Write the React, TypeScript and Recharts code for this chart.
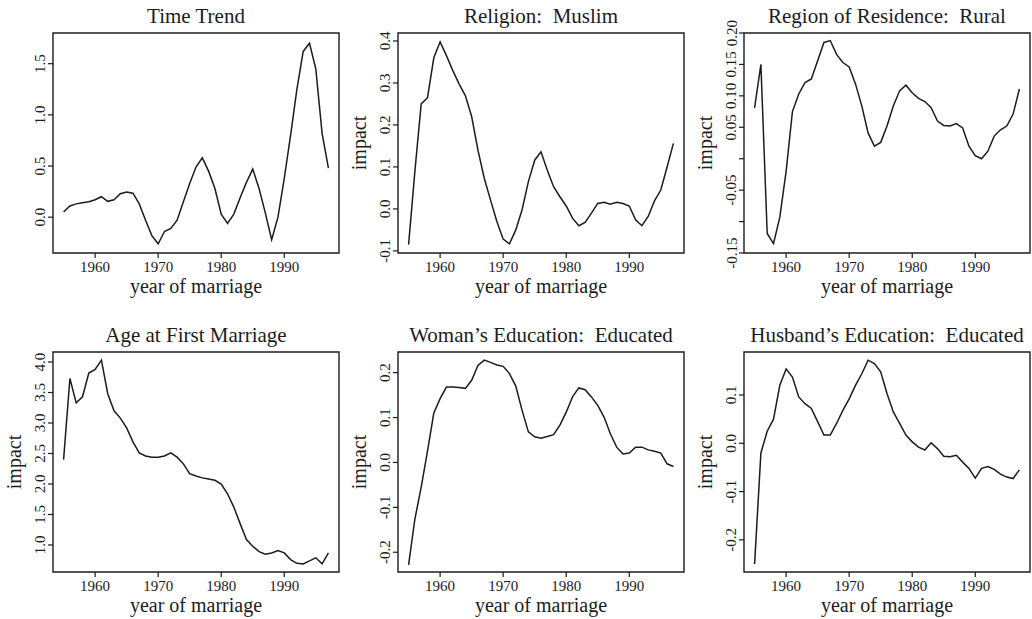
import React from 'react';
import { LineChart, Line, XAxis, YAxis, ReferenceArea } from 'recharts';

const FONT = '"Liberation Serif", "DejaVu Serif", serif';
const INK = '#1c1c1c';

const years = [
  1955, 1956, 1957, 1958, 1959, 1960, 1961, 1962, 1963, 1964, 1965, 1966, 1967, 1968, 1969,
  1970, 1971, 1972, 1973, 1974, 1975, 1976, 1977, 1978, 1979, 1980, 1981, 1982, 1983, 1984,
  1985, 1986, 1987, 1988, 1989, 1990, 1991, 1992, 1993, 1994, 1995, 1996, 1997,
];

const timeTrend = [
  0.05, 0.11, 0.13, 0.14, 0.15, 0.17, 0.2, 0.155, 0.17, 0.23, 0.245, 0.235, 0.13, -0.03, -0.18,
  -0.26, -0.14, -0.11, -0.03, 0.15, 0.33, 0.49, 0.58, 0.45, 0.28, 0.03, -0.06, 0.03, 0.19, 0.34,
  0.47, 0.28, 0.04, -0.22, 0.0, 0.38, 0.8, 1.25, 1.62, 1.7, 1.45, 0.82, 0.48,
];

const religionMuslim = [
  -0.085, 0.09, 0.25, 0.265, 0.36, 0.398, 0.365, 0.33, 0.298, 0.27, 0.22, 0.14, 0.073, 0.021, -0.03,
  -0.072, -0.083, -0.05, -0.002, 0.065, 0.116, 0.136, 0.092, 0.053, 0.029, 0.007, -0.022, -0.04, -0.032, -0.01,
  0.013, 0.016, 0.011, 0.016, 0.013, 0.007, -0.026, -0.04, -0.018, 0.019, 0.045, 0.1, 0.156,
];

const regionRural = [
  0.081, 0.15, -0.119, -0.135, -0.093, -0.02, 0.075, 0.103, 0.121, 0.127, 0.156, 0.185, 0.188, 0.166, 0.153,
  0.146, 0.119, 0.084, 0.041, 0.02, 0.026, 0.052, 0.084, 0.108, 0.117, 0.105, 0.096, 0.091, 0.081, 0.06,
  0.053, 0.052, 0.056, 0.049, 0.02, 0.005, 0.0, 0.012, 0.036, 0.046, 0.052, 0.071, 0.111,
];

const ageFirstMarriage = [
  2.4, 3.73, 3.33, 3.43, 3.82, 3.88, 4.03, 3.48, 3.2, 3.08, 2.92, 2.69, 2.51, 2.46, 2.44,
  2.44, 2.46, 2.51, 2.44, 2.33, 2.17, 2.13, 2.1, 2.08, 2.06, 2.0, 1.84, 1.62, 1.35, 1.09,
  0.98, 0.89, 0.85, 0.87, 0.91, 0.87, 0.76, 0.7, 0.69, 0.74, 0.79, 0.69, 0.87,
];

const womanEducated = [
  -0.228, -0.126, -0.055, 0.025, 0.11, 0.142, 0.168, 0.168, 0.167, 0.165, 0.183, 0.216, 0.228, 0.223, 0.217,
  0.214, 0.198, 0.17, 0.116, 0.068, 0.057, 0.054, 0.058, 0.062, 0.083, 0.112, 0.146, 0.166, 0.162, 0.146,
  0.127, 0.101, 0.064, 0.034, 0.019, 0.021, 0.034, 0.034, 0.028, 0.025, 0.021, -0.003, -0.009,
];

const husbandEducated = [
  -0.25, -0.02, 0.025, 0.05, 0.12, 0.154, 0.137, 0.096, 0.082, 0.072, 0.045, 0.017, 0.017, 0.041, 0.068,
  0.092, 0.12, 0.144, 0.172, 0.165, 0.148, 0.103, 0.065, 0.041, 0.017, 0.003, -0.008, -0.014, 0.001, -0.011,
  -0.027, -0.028, -0.025, -0.039, -0.052, -0.072, -0.052, -0.048, -0.054, -0.064, -0.07, -0.073, -0.055,
];

const titles = [
  'Time Trend',
  'Religion:  Muslim',
  'Region of Residence:  Rural',
  'Age at First Marriage',
  'Woman\u2019s Education:  Educated',
  'Husband\u2019s Education:  Educated',
];

const xTicks = [1960, 1970, 1980, 1990];
const xDomain = [1953.32, 1998.68];
const xAxisTitle = 'year of marriage';
const yAxisTitle = 'impact';

const yTicks1 = [0, 0.5, 1.0, 1.5];
const yLabels1 = ['0.0', '0.5', '1.0', '1.5'];
const yTicks2 = [-0.1, 0, 0.1, 0.2, 0.3, 0.4];
const yLabels2 = ['-0.1', '0.0', '0.1', '0.2', '0.3', '0.4'];
const yTicks3 = [-0.15, -0.1, -0.05, 0, 0.05, 0.1, 0.15, 0.2];
const yLabels3 = ['-0.15', '', '-0.05', '', '0.05', '0.10', '0.15', '0.20'];
const yTicks4 = [1.0, 1.5, 2.0, 2.5, 3.0, 3.5, 4.0];
const yLabels4 = ['1.0', '1.5', '2.0', '2.5', '3.0', '3.5', '4.0'];
const yTicks5 = [-0.2, -0.1, 0, 0.1, 0.2];
const yLabels5 = ['-0.2', '-0.1', '0.0', '0.1', '0.2'];
const yTicks6 = [-0.2, -0.1, 0, 0.1];
const yLabels6 = ['-0.2', '-0.1', '0.0', '0.1'];

const yDomains = [
  [-0.35, 1.8],
  [-0.105, 0.419],
  [-0.15, 0.2],
  [0.557, 4.164],
  [-0.244, 0.246],
  [-0.2665, 0.189],
];

const panels = [
  { values: timeTrend, ticks: yTicks1, labels: yLabels1, showY: false, col: 0, row: 0 },
  { values: religionMuslim, ticks: yTicks2, labels: yLabels2, showY: true, col: 1, row: 0 },
  { values: regionRural, ticks: yTicks3, labels: yLabels3, showY: true, col: 2, row: 0 },
  { values: ageFirstMarriage, ticks: yTicks4, labels: yLabels4, showY: true, col: 0, row: 1 },
  { values: womanEducated, ticks: yTicks5, labels: yLabels5, showY: true, col: 1, row: 1 },
  { values: husbandEducated, ticks: yTicks6, labels: yLabels6, showY: true, col: 2, row: 1 },
];

const colLeft = [-1, 344, 690];
const rowTop = [0, 319];
const CELL_W = 342;
const CELL_H = 300;
const Y_AXIS_W = 54;
const X_AXIS_H = 47;

const XTick = (props: any) => {
  const { x, y, payload } = props;
  return (
    <text x={x} y={y + 13.7} textAnchor="middle" fontSize={15} fontFamily={FONT} fill={INK}>
      {String(payload.value)}
    </text>
  );
};

const makeYTick = (ticks: number[], labels: string[]) => (props: any) => {
  const { x, y, payload } = props;
  const idx = ticks.findIndex((t) => Math.abs(t - payload.value) < 1e-9);
  const label = idx >= 0 ? labels[idx] : '';
  if (!label) return <g />;
  const tx = x - 2.5;
  return (
    <text
      x={tx}
      y={y}
      transform={`rotate(-90, ${tx}, ${y})`}
      textAnchor="middle"
      fontSize={15}
      fontFamily={FONT}
      fill={INK}
    >
      {label}
    </text>
  );
};

const Panel = ({ index }: { index: number }) => {
  const p = panels[index];
  const data = years.map((yr, i) => ({ year: yr, v: p.values[i] }));
  const yDom = yDomains[index];
  const title = titles[index];

  const xLabel = (lp: any) => {
    const vb = lp.viewBox || {};
    return (
      <text
        x={vb.x + vb.width / 2}
        y={vb.y + 39.5}
        textAnchor="middle"
        fontSize={20}
        fontFamily={FONT}
        fill={INK}
      >
        {xAxisTitle}
      </text>
    );
  };

  const yLabel = (lp: any) => {
    const vb = lp.viewBox || {};
    const tx = vb.x + vb.width - 32.5;
    const ty = vb.y + vb.height / 2;
    return (
      <text
        x={tx}
        y={ty}
        transform={`rotate(-90, ${tx}, ${ty})`}
        textAnchor="middle"
        fontSize={20}
        fontFamily={FONT}
        fill={INK}
      >
        {yAxisTitle}
      </text>
    );
  };

  const titleLabel = (lp: any) => {
    const vb = lp.viewBox || {};
    return (
      <text
        x={vb.x + vb.width / 2}
        y={vb.y - 10.5}
        textAnchor="middle"
        fontSize={21}
        fontFamily={FONT}
        fill={INK}
        style={{ whiteSpace: 'pre' }}
      >
        {title}
      </text>
    );
  };

  return (
    <div style={{ position: 'absolute', left: colLeft[p.col], top: rowTop[p.row] }}>
      <LineChart
        width={CELL_W}
        height={CELL_H}
        data={data}
        margin={{ top: 33, right: 2, bottom: 0, left: 0 }}
      >
        <XAxis
          dataKey="year"
          type="number"
          domain={xDomain}
          allowDataOverflow
          ticks={xTicks}
          interval={0}
          height={X_AXIS_H}
          axisLine={false}
          tickLine={{ stroke: INK, strokeWidth: 1.2 }}
          tickSize={5}
          tickMargin={0}
          tick={XTick}
          label={xLabel}
        />
        <YAxis
          type="number"
          domain={yDom}
          allowDataOverflow
          ticks={p.ticks}
          interval={0}
          width={Y_AXIS_W}
          axisLine={false}
          tickLine={{ stroke: INK, strokeWidth: 1.2 }}
          tickSize={5}
          tickMargin={0}
          tick={makeYTick(p.ticks, p.labels)}
          label={p.showY ? yLabel : undefined}
        />
        <ReferenceArea
          x1={xDomain[0]}
          x2={xDomain[1]}
          y1={yDom[0]}
          y2={yDom[1]}
          fill="none"
          fillOpacity={0}
          stroke={INK}
          strokeWidth={1.4}
          ifOverflow="visible"
          label={titleLabel}
        />
        <Line
          type="linear"
          dataKey="v"
          stroke={INK}
          strokeWidth={1.5}
          dot={false}
          activeDot={false}
          isAnimationActive={false}
        />
      </LineChart>
    </div>
  );
};

export default function App() {
  return (
    <div
      style={{
        position: 'absolute',
        left: 0,
        top: 0,
        width: 1032,
        height: 619,
        overflow: 'hidden',
        background: '#ffffff',
      }}
    >
      {panels.map((_, i) => (
        <Panel key={i} index={i} />
      ))}
    </div>
  );
}
